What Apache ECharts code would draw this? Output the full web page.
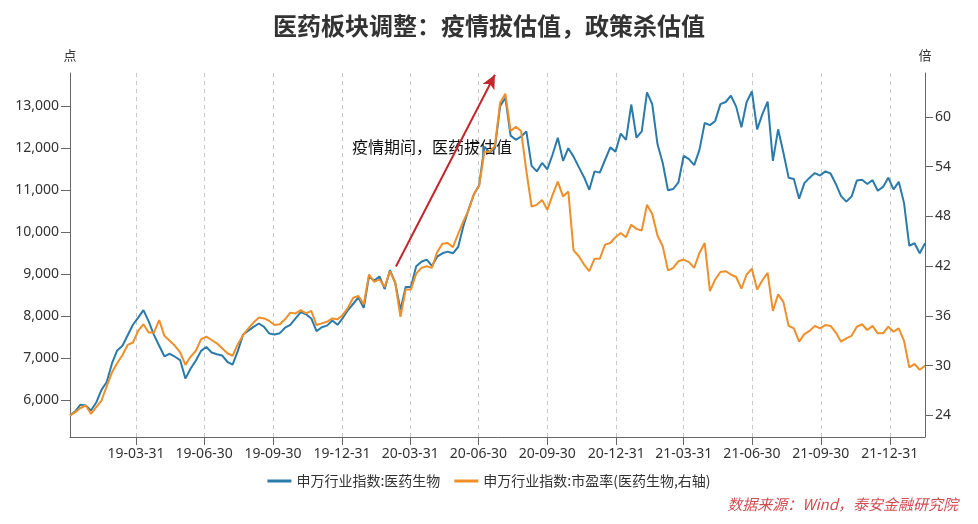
<!DOCTYPE html>
<html>
<head>
<meta charset="utf-8">
<title>医药板块调整</title>
<script src="https://cdn.jsdelivr.net/npm/echarts@6/dist/echarts.min.js"></script>
<style>
html, body { margin: 0; padding: 0; background: #fff; }
#container { width: 978px; height: 524px; }
</style>
</head>
<body>
<div id="container"></div>
<script>
// weekly observations, first one on 2019-01-02
var firstDay = [2019, 0, 2];
var quarterEnds = ['2019-03-31', '2019-06-30', '2019-09-30', '2019-12-31', '2020-03-31', '2020-06-30',
    '2020-09-30', '2020-12-31', '2021-03-31', '2021-06-30', '2021-09-30', '2021-12-31'];
var leftTicks = [6000, 7000, 8000, 9000, 10000, 11000, 12000, 13000];
var rightTicks = [24, 30, 36, 42, 48, 54, 60];

// 申万行业指数:医药生物 (点)
var indexValues = [
    5640, 5740, 5900, 5880, 5760, 5950, 6250, 6440, 6880, 7190,
    7300, 7550, 7800, 7970, 8150, 7880, 7560, 7300, 7050, 7110,
    7040, 6960, 6520, 6760, 6950, 7180, 7270, 7140, 7100, 7070,
    6920, 6850, 7180, 7570, 7660, 7750, 7830, 7750, 7590, 7570,
    7600, 7730, 7800, 7950, 8100, 8050, 7950, 7650, 7740, 7780,
    7900, 7800, 7960, 8150, 8300, 8450, 8200, 8950, 8850, 8950,
    8650, 9100, 8800, 8150, 8700, 8700, 9190, 9300, 9350, 9200,
    9420, 9500, 9540, 9500, 9650, 10150, 10550, 10900, 11120, 12040,
    11900, 12000, 13000, 13200, 12300, 12200, 12280, 12400, 11580, 11450,
    11650, 11500, 11850, 12250, 11700, 12000, 11800, 11550, 11310, 11010,
    11450, 11420, 11720, 12020, 11920, 12350, 12200, 13040, 12250, 12400,
    13330, 13050, 12100, 11650, 11000, 11030, 11190, 11820, 11740, 11600,
    11960, 12600, 12550, 12650, 13050, 13100, 13250, 12990, 12500, 13100,
    13350, 12450, 12810, 13110, 11700, 12450, 11900, 11300, 11270, 10800,
    11170, 11300, 11410, 11350, 11450, 11400, 11150, 10860, 10730, 10850,
    11230, 11250, 11150, 11240, 10990, 11080, 11300, 11020, 11200, 10700,
    9680, 9740, 9500, 9740
];

// 市盈率 (倍, 右轴)
var peValues = [
    24.0, 24.4, 24.9, 25.2, 24.2, 25.0, 25.8, 27.5, 29.2, 30.3,
    31.3, 32.5, 32.8, 34.2, 35.0, 34.0, 34.0, 35.5, 33.6, 33.0,
    32.4, 31.6, 30.1, 31.1, 31.8, 33.2, 33.5, 33.1, 32.7, 32.1,
    31.5, 31.2, 32.6, 33.7, 34.5, 35.2, 35.8, 35.7, 35.4, 34.9,
    35.0, 35.6, 36.4, 36.3, 36.7, 36.3, 36.6, 34.9, 35.1, 35.3,
    35.7, 35.6, 36.1, 37.0, 38.2, 38.4, 37.4, 41.0, 40.1, 40.4,
    39.5, 41.4, 40.0, 35.9, 39.2, 39.2, 41.1, 41.8, 42.0, 41.8,
    43.7, 44.7, 44.8, 44.3, 45.9, 47.4, 48.8, 50.7, 51.7, 55.8,
    55.8, 56.5, 61.7, 62.8, 58.3, 58.8, 58.3, 53.5, 49.2, 49.4,
    50.0, 48.8, 50.6, 52.2, 50.4, 51.0, 43.9, 43.2, 42.2, 41.4,
    42.9, 42.9, 44.6, 44.8, 45.5, 46.0, 45.5, 47.0, 46.5, 46.3,
    49.4, 48.3, 45.7, 44.4, 41.5, 41.8, 42.6, 42.8, 42.5, 41.8,
    43.6, 44.8, 39.0, 40.4, 41.3, 41.4, 41.0, 40.7, 39.3, 41.0,
    41.7, 39.2, 40.3, 41.2, 36.6, 38.6, 37.7, 34.8, 34.5, 32.9,
    33.8, 34.2, 34.8, 34.5, 34.9, 34.8, 34.0, 32.9, 33.3, 33.6,
    34.7, 35.0, 34.3, 34.8, 33.9, 33.9, 34.7, 34.1, 34.5, 33.0,
    29.8, 30.2, 29.5, 30.0
];

// arrow annotation: from [date, 点] to [date, 点]
var arrowFrom = ['2020-03-12', 9186];
var arrowTo = ['2020-07-22', 13750];

function toTime(s) {
    var p = s.split('-');
    return new Date(+p[0], +p[1] - 1, +p[2]).getTime();
}
function pad(n) { return n < 10 ? '0' + n : '' + n; }

var weekDates = [];
for (var i = 0; i < indexValues.length; i++) {
    weekDates.push(new Date(firstDay[0], firstDay[1], firstDay[2] + 7 * i).getTime());
}
var quarterTimes = quarterEnds.map(toTime);

var dom = document.getElementById('container');
var myChart = echarts.init(dom);
var cjkFont = '"Noto Sans CJK SC", sans-serif';

var option = {
    animation: false,
    backgroundColor: '#fff',
    textStyle: { fontFamily: '"Noto Sans", "Noto Sans CJK SC", sans-serif' },
    title: {
        text: '医药板块调整：疫情拔估值，政策杀估值',
        left: 'center',
        top: 9,
        textStyle: { fontSize: 24, fontWeight: 'bold', color: '#333', fontFamily: cjkFont }
    },
    legend: {
        bottom: 31,
        left: 'center',
        icon: 'rect',
        itemWidth: 24,
        itemHeight: 3,
        itemGap: 14,
        textStyle: { fontSize: 14, color: '#333', fontFamily: cjkFont },
        data: ['申万行业指数:医药生物', '申万行业指数:市盈率(医药生物,右轴)']
    },
    grid: { left: 70, right: 53, top: 73, bottom: 87 },
    // dates carried as timestamps on a value axis so the quarter-end ticks can be set
    xAxis: {
        type: 'value',
        min: weekDates[0],
        max: weekDates[weekDates.length - 1],
        axisLine: { lineStyle: { color: '#666' } },
        axisTick: { show: true, length: 8, customValues: quarterTimes, lineStyle: { color: '#666' } },
        axisLabel: {
            customValues: quarterTimes,
            margin: 10,
            fontSize: 14,
            color: '#333',
            formatter: function (v) {
                var d = new Date(v);
                return pad(d.getFullYear() % 100) + '-' + pad(d.getMonth() + 1) + '-' + pad(d.getDate());
            }
        },
        splitLine: { show: true, lineStyle: { color: '#c8c8c8', type: [4, 4] } }
    },
    yAxis: [
        {
            type: 'value',
            name: '点',
            nameGap: 11,
            nameTextStyle: { fontSize: 13, color: '#333', fontFamily: cjkFont },
            min: 5130,
            max: 13790,
            axisLine: { show: true, lineStyle: { color: '#666' } },
            axisTick: { show: true, length: 9, customValues: leftTicks, lineStyle: { color: '#666' } },
            axisLabel: {
                customValues: leftTicks,
                margin: 11,
                fontSize: 14,
                color: '#333',
                formatter: function (v) { return v.toLocaleString('en-US'); }
            },
            splitLine: { show: false }
        },
        {
            type: 'value',
            name: '倍',
            nameGap: 11,
            nameTextStyle: { fontSize: 13, color: '#333', fontFamily: cjkFont },
            min: 21.4,
            max: 65.3,
            position: 'right',
            axisLine: { show: true, lineStyle: { color: '#666' } },
            axisTick: { show: true, length: 8, customValues: rightTicks, lineStyle: { color: '#666' } },
            axisLabel: { customValues: rightTicks, margin: 10, fontSize: 14, color: '#333' },
            splitLine: { show: false }
        }
    ],
    series: [
        {
            name: '申万行业指数:医药生物',
            type: 'line',
            yAxisIndex: 0,
            showSymbol: false,
            color: '#2a7aaa',
            lineStyle: { width: 2 },
            data: weekDates.map(function (t, i) { return [t, indexValues[i]]; }),
            markLine: {
                silent: true,
                symbol: ['none', 'arrow'],
                symbolSize: [10, 14],
                lineStyle: { color: '#c4262e', width: 2, type: 'solid' },
                label: { show: false },
                emphasis: { disabled: true },
                data: [[
                    { coord: [toTime(arrowFrom[0]), arrowFrom[1]] },
                    { coord: [toTime(arrowTo[0]), arrowTo[1]] }
                ]]
            }
        },
        {
            name: '申万行业指数:市盈率(医药生物,右轴)',
            type: 'line',
            yAxisIndex: 1,
            showSymbol: false,
            color: '#ee8f2a',
            lineStyle: { width: 2 },
            data: weekDates.map(function (t, i) { return [t, peValues[i]]; })
        }
    ],
    graphic: [
        {
            type: 'text',
            left: 352,
            top: 139,
            style: { text: '疫情期间，医药拔估值', fontSize: 16, fill: '#111', fontFamily: cjkFont }
        },
        {
            type: 'text',
            right: 20,
            bottom: 12,
            style: {
                text: '数据来源：Wind，泰安金融研究院',
                fontSize: 15,
                fontStyle: 'italic',
                fill: 'rgba(200, 45, 50, 0.85)',
                fontFamily: cjkFont
            }
        }
    ]
};

if (option && typeof option === 'object') {
    myChart.setOption(option, true);
}
</script>
</body>
</html>
